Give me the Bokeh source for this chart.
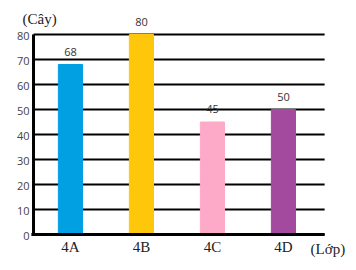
from bokeh.plotting import figure
from bokeh.models import Range1d, ColumnDataSource
from bokeh.core.properties import value
from bokeh.embed import file_html
from bokeh.resources import INLINE

categories = ["4A", "4B", "4C", "4D"]
values = [68, 80, 45, 50]
colors = ["#00A0E3", "#FFC70C", "#FDAAC8", "#A34A9F"]
y_ticks = [0, 10, 20, 30, 40, 50, 60, 70, 80]
y_title = "(Cây)"
x_title = "(Lớp)"

# layout (data units): plot area from X_LEFT to X_RIGHT, y from 0 to 80
X_LEFT, X_RIGHT = -0.52, 3.58

xs = list(range(len(categories)))
src = ColumnDataSource(dict(x=xs, top=values, color=colors,
                            label=[str(v) for v in values]))

p = figure(width=356, height=270, output_backend="svg", toolbar_location=None,
           x_range=Range1d(-0.985, 4.029), y_range=Range1d(-14.4, 93.6),
           min_border=0)
p.outline_line_color = None
p.axis.visible = False
p.grid.visible = False
p.background_fill_color = "white"
p.border_fill_color = "white"

# grid lines
n = len(y_ticks)
p.segment(x0=[X_LEFT] * n, x1=[X_RIGHT] * n, y0=y_ticks, y1=y_ticks,
          line_color="black", line_width=2)

# bars
p.vbar(x="x", top="top", width=0.34, color="color", source=src)

# axes lines
p.segment(x0=[X_LEFT - 0.03], x1=[X_RIGHT], y0=[0], y1=[0], line_color="black", line_width=3)
p.segment(x0=[X_LEFT], x1=[X_LEFT], y0=[0], y1=[max(y_ticks)], line_color="black", line_width=3)

# value labels
p.text(x="x", y="top", text="label", source=src, text_align="center",
       text_baseline="middle", y_offset=-13, text_font_size="11px",
       text_color="#333333", text_font=value("Open Sans"))

# y tick labels
p.text(x=[X_LEFT] * n, y=y_ticks, text=[str(t) for t in y_ticks], text_align="right",
       text_baseline="middle", x_offset=-4, y_offset=1, text_font_size="11px",
       text_color="#444444", text_font=value("Open Sans"))

# category labels
p.text(x=xs, y=[0] * len(xs), text=categories, text_align="center",
       text_baseline="middle", y_offset=12, text_font_size="15px",
       text_color="#222222", text_font=value("Liberation Serif"))

# axis titles
p.text(x=[X_LEFT], y=[max(y_ticks)], text=[y_title], text_align="left",
       text_baseline="middle", x_offset=-11, y_offset=-16, text_font_size="15px",
       text_color="#222222", text_font=value("Liberation Serif"))
p.text(x=[X_RIGHT], y=[0], text=[x_title], text_align="left",
       text_baseline="middle", x_offset=-14, y_offset=14, text_font_size="15px",
       text_color="#222222", text_font=value("Liberation Serif"))

open("out.html", "w").write(file_html(p, INLINE))
